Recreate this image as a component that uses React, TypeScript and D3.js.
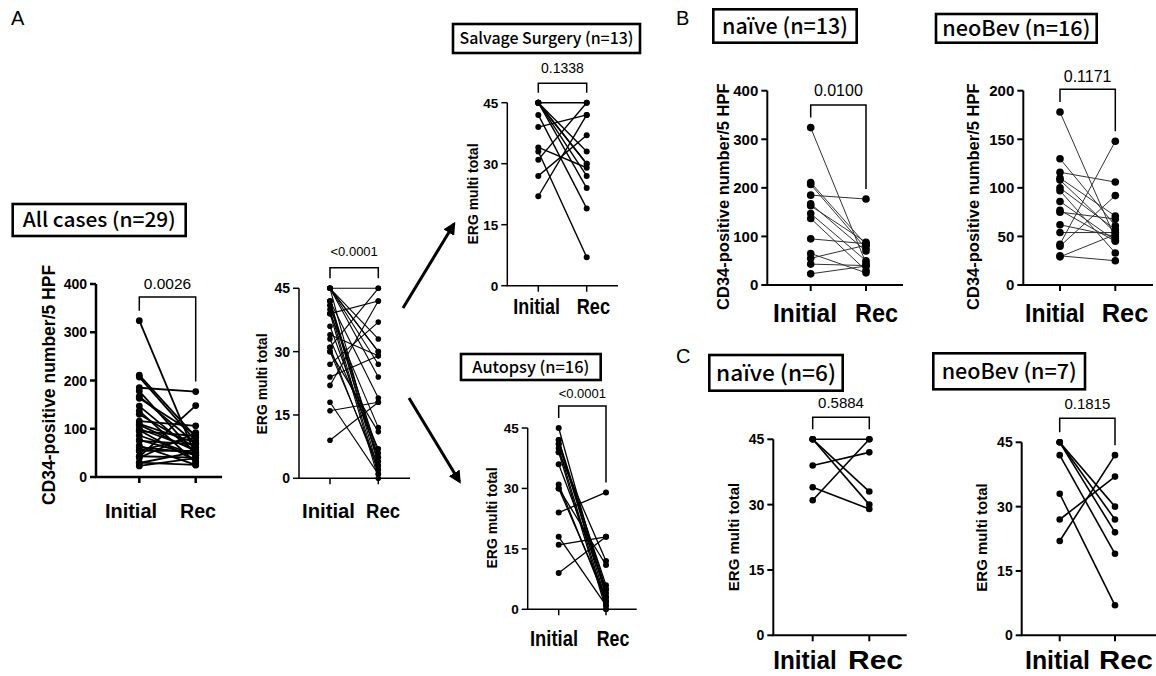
import React from "react";
import * as d3 from "d3";

// ---------- DATA ----------
const groups = ["Initial", "Rec"];

// B: CD34-positive number / 5 HPF
const cd34NaiveInitial = [324, 211, 207, 185, 167, 163, 147, 137, 95, 65, 55, 43, 23];
const cd34NaiveRec = [45, 83, 75, 177, 70, 88, 50, 30, 85, 25, 82, 40, 39];
const cd34NeoBevInitial = [178, 130, 116, 110, 108, 100, 97, 86, 77, 75, 62, 54, 42, 40, 30, 29];
const cd34NeoBevRec = [48, 61, 106, 71, 54, 57, 33, 46, 45, 68, 50, 54, 148, 92, 25, 52];

// C: ERG multi total (salvage surgery cases)
const ergNaiveInitial = [45, 45, 45, 39, 34, 31];
const ergNaiveRec = [45, 33, 30, 42, 29, 45];
const ergNeoBevInitial = [45, 45, 45, 42, 33, 27, 22];
const ergNeoBevRec = [30, 27, 24, 19, 7, 37, 42];

// Autopsy: ERG multi total
const ergAutopsyInitial = [45, 42, 42, 41, 41, 40, 39, 39, 36, 31, 30, 30, 24, 18, 16, 9];
const ergAutopsyRec = [3, 5, 2, 6, 4, 1, 12, 0, 5, 2, 11, 3, 29, 1, 18, 18];

// Combined groups
const cd34AllInitial = [...cd34NaiveInitial, ...cd34NeoBevInitial];
const cd34AllRec = [...cd34NaiveRec, ...cd34NeoBevRec];
const ergSalvageInitial = [...ergNaiveInitial, ...ergNeoBevInitial];
const ergSalvageRec = [...ergNaiveRec, ...ergNeoBevRec];
const ergAllInitial = [...ergSalvageInitial, ...ergAutopsyInitial];
const ergAllRec = [...ergSalvageRec, ...ergAutopsyRec];

const cd34Ticks400 = [0, 100, 200, 300, 400];
const cd34Ticks200 = [0, 50, 100, 150, 200];
const ergTicks = [0, 15, 30, 45];

const cd34Label = "CD34-positive number/5 HPF";
const ergLabel = "ERG multi total";

// ---------- LAYOUT ----------
type PanelCfg = {
  initial: number[];
  rec: number[];
  ticks: number[];
  yLabel: string;
  pText: string;
  axisX: number;
  yTop: number;
  yBottom: number;
  initX: number;
  recX: number;
  axisRight: number;
  bracketTop: number;
  pY: number;
  pSize: number;
  yLabelX: number;
  yLabelCY: number;
  yLabelSize: number;
  tickSize: number;
  xLabelY: number;
  xLabelSize: number;
  xLabSpan: [[number, number], [number, number]];
  axisW: number;
  lineW: number;
  lineColor: string;
  dotR: number;
};

const panels: PanelCfg[] = [
  {
    initial: cd34AllInitial, rec: cd34AllRec, ticks: cd34Ticks400, yLabel: cd34Label, pText: "0.0026",
    axisX: 96, yTop: 284, yBottom: 477, initX: 139.3, recX: 195.7, axisRight: 222,
    bracketTop: 297, pY: 283, pSize: 15.5, yLabelX: 49, yLabelCY: 385, yLabelSize: 17.5, tickSize: 14,
    xLabelY: 510, xLabelSize: 21, xLabSpan: [[105, 157], [180, 216]],
    axisW: 2.5, lineW: 1.8, lineColor: "#000", dotR: 3.4,
  },
  {
    initial: ergAllInitial, rec: ergAllRec, ticks: ergTicks, yLabel: ergLabel, pText: "<0.0001",
    axisX: 299, yTop: 288.3, yBottom: 478.3, initX: 330, recX: 378.3, axisRight: 410,
    bracketTop: 267.7, pY: 251.7, pSize: 13, yLabelX: 261.7, yLabelCY: 384, yLabelSize: 14, tickSize: 14,
    xLabelY: 510, xLabelSize: 21, xLabSpan: [[302, 355], [366, 400]],
    axisW: 1.5, lineW: 1.1, lineColor: "#000", dotR: 2.8,
  },
  {
    initial: ergSalvageInitial, rec: ergSalvageRec, ticks: ergTicks, yLabel: ergLabel, pText: "0.1338",
    axisX: 507.3, yTop: 102.7, yBottom: 285.7, initX: 538.3, recX: 586.7, axisRight: 618,
    bracketTop: 83.3, pY: 68.3, pSize: 14, yLabelX: 472.7, yLabelCY: 194, yLabelSize: 14, tickSize: 13.5,
    xLabelY: 306, xLabelSize: 21.5, xLabSpan: [[513.3, 560], [576.7, 610]],
    axisW: 1.5, lineW: 1.4, lineColor: "#000", dotR: 3,
  },
  {
    initial: ergAutopsyInitial, rec: ergAutopsyRec, ticks: ergTicks, yLabel: ergLabel, pText: "<0.0001",
    axisX: 527.7, yTop: 428, yBottom: 609.3, initX: 558.7, recX: 606, axisRight: 636.7,
    bracketTop: 406, pY: 393.3, pSize: 13, yLabelX: 491.7, yLabelCY: 518, yLabelSize: 14, tickSize: 13.5,
    xLabelY: 638, xLabelSize: 21.5, xLabSpan: [[530, 578], [596.7, 629.3]],
    axisW: 1.5, lineW: 1.3, lineColor: "#000", dotR: 3,
  },
  {
    initial: cd34NaiveInitial, rec: cd34NaiveRec, ticks: cd34Ticks400, yLabel: cd34Label, pText: "0.0100",
    axisX: 767.3, yTop: 90.7, yBottom: 285, initX: 810.7, recX: 866, axisRight: 903,
    bracketTop: 105, pY: 90, pSize: 16, yLabelX: 723.3, yLabelCY: 196.7, yLabelSize: 16.5, tickSize: 15,
    xLabelY: 313, xLabelSize: 25, xLabSpan: [[773, 837], [855, 898]],
    axisW: 2, lineW: 1, lineColor: "#333", dotR: 3.8,
  },
  {
    initial: cd34NeoBevInitial, rec: cd34NeoBevRec, ticks: cd34Ticks200, yLabel: cd34Label, pText: "0.1171",
    axisX: 1023.3, yTop: 90.7, yBottom: 285, initX: 1060, recX: 1115.3, axisRight: 1153,
    bracketTop: 89.3, pY: 76, pSize: 16, yLabelX: 973.3, yLabelCY: 196.7, yLabelSize: 16.5, tickSize: 15,
    xLabelY: 313, xLabelSize: 25, xLabSpan: [[1025, 1085], [1101.7, 1148.3]],
    axisW: 2, lineW: 1, lineColor: "#333", dotR: 3.8,
  },
  {
    initial: ergNaiveInitial, rec: ergNaiveRec, ticks: ergTicks, yLabel: ergLabel, pText: "0.5884",
    axisX: 773.3, yTop: 439.3, yBottom: 635.3, initX: 812.7, recX: 869.3, axisRight: 906.7,
    bracketTop: 417.3, pY: 402.7, pSize: 15, yLabelX: 733.3, yLabelCY: 537, yLabelSize: 15, tickSize: 14,
    xLabelY: 660, xLabelSize: 25, xLabSpan: [[773.3, 836.7], [848, 903]],
    axisW: 2, lineW: 1.6, lineColor: "#000", dotR: 3.3,
  },
  {
    initial: ergNeoBevInitial, rec: ergNeoBevRec, ticks: ergTicks, yLabel: ergLabel, pText: "0.1815",
    axisX: 1021.7, yTop: 442.3, yBottom: 635.3, initX: 1059.7, recX: 1115, axisRight: 1156,
    bracketTop: 418.3, pY: 404, pSize: 15, yLabelX: 981.7, yLabelCY: 537.5, yLabelSize: 15, tickSize: 14,
    xLabelY: 660, xLabelSize: 25, xLabSpan: [[1025, 1090], [1099, 1153]],
    axisW: 2, lineW: 1.6, lineColor: "#000", dotR: 3.3,
  },
];

type TitleCfg = { text: string; x0: number; x1: number; y0: number; y1: number; size: number; tw: number };
const titles: TitleCfg[] = [
  { text: "All cases (n=29)", x0: 12.7, x1: 185.7, y0: 204, y1: 236, size: 20, tw: 153 },
  { text: "Salvage Surgery (n=13)", x0: 453, x1: 640, y0: 24, y1: 53, size: 16, tw: 174 },
  { text: "Autopsy (n=16)", x0: 461, x1: 600.7, y0: 354, y1: 380, size: 16, tw: 117 },
  { text: "naïve (n=13)", x0: 713.3, x1: 856.7, y0: 9.3, y1: 42.7, size: 22, tw: 126 },
  { text: "neoBev (n=16)", x0: 936, x1: 1096.7, y0: 14, y1: 42.7, size: 21, tw: 148 },
  { text: "naïve (n=6)", x0: 709.3, x1: 842.7, y0: 355, y1: 390.7, size: 22, tw: 120 },
  { text: "neoBev (n=7)", x0: 933.3, x1: 1085, y0: 353.3, y1: 389.3, size: 21, tw: 135 },
];

const letters = [
  { t: "A", x: 11, y: 25 },
  { t: "B", x: 676, y: 25 },
  { t: "C", x: 676, y: 363 },
];

const arrows = [
  { x1: 403, y1: 308, x2: 454, y2: 224 },
  { x1: 409, y1: 398, x2: 459.5, y2: 481.5 },
];

const FONT = "'Liberation Sans', Arial, Helvetica, sans-serif";
const TITLE_FONT = "'Noto Sans CJK JP', 'Noto Sans', sans-serif";

function Panel({ c }: { c: PanelCfg }) {
  const maxT = c.ticks[c.ticks.length - 1];
  const y = d3.scaleLinear().domain([0, maxT]).range([c.yBottom, c.yTop]);
  const x = d3.scalePoint<string>().domain(groups).range([c.initX, c.recX]);
  const xi = x("Initial")!;
  const xr = x("Rec")!;
  const gap = 10;
  const leftLeg = y(d3.max(c.initial)!) - gap;
  const rightLeg = y(d3.max(c.rec)!) - gap;
  const line = d3.line<[number, number]>().x((d) => d[0]).y((d) => d[1]);
  const bracket = d3.line<[number, number]>()([
    [xi, leftLeg],
    [xi, c.bracketTop],
    [xr, c.bracketTop],
    [xr, rightLeg],
  ]);
  return (
    <g>
      {c.initial.map((v, i) => (
        <path
          key={"l" + i}
          d={line([[xi, y(v)], [xr, y(c.rec[i])]])!}
          stroke={c.lineColor}
          strokeWidth={c.lineW}
          fill="none"
        />
      ))}
      {c.initial.map((v, i) => (
        <circle key={"a" + i} cx={xi} cy={y(v)} r={c.dotR} fill="#000" />
      ))}
      {c.rec.map((v, i) => (
        <circle key={"b" + i} cx={xr} cy={y(v)} r={c.dotR} fill="#000" />
      ))}
      <line x1={c.axisX} x2={c.axisX} y1={c.yTop} y2={c.yBottom} stroke="#000" strokeWidth={c.axisW} />
      <line x1={c.axisX - c.axisW / 2} x2={c.axisRight} y1={c.yBottom} y2={c.yBottom} stroke="#000" strokeWidth={c.axisW} />
      {c.ticks.map((t) => (
        <g key={"t" + t}>
          <line x1={c.axisX - 6} x2={c.axisX} y1={y(t)} y2={y(t)} stroke="#000" strokeWidth={c.axisW} />
          <text
            x={c.axisX - 9}
            y={y(t)}
            dy="0.36em"
            textAnchor="end"
            fontFamily={FONT}
            fontWeight="bold"
            fontSize={c.tickSize}
          >
            {t}
          </text>
        </g>
      ))}
      {groups.map((g, gi) => {
        const span = c.xLabSpan[gi];
        return (
          <g key={g}>
            <line x1={x(g)!} x2={x(g)!} y1={c.yBottom} y2={c.yBottom + 6} stroke="#000" strokeWidth={c.axisW} />
            <text
              x={span[0]}
              y={c.xLabelY}
              dy="0.36em"
              textAnchor="start"
              fontFamily={FONT}
              fontWeight="bold"
              fontSize={c.xLabelSize}
              textLength={span[1] - span[0]}
              lengthAdjust="spacingAndGlyphs"
            >
              {g}
            </text>
          </g>
        );
      })}
      <text
        transform={`translate(${c.yLabelX},${c.yLabelCY}) rotate(-90)`}
        dy="0.36em"
        textAnchor="middle"
        fontFamily={FONT}
        fontWeight="bold"
        fontSize={c.yLabelSize}
      >
        {c.yLabel}
      </text>
      <path d={bracket!} fill="none" stroke="#000" strokeWidth={1.5} />
      <text
        x={(xi + xr) / 2}
        y={c.pY}
        dy="0.36em"
        textAnchor="middle"
        fontFamily={FONT}
        fontSize={c.pSize}
      >
        {c.pText}
      </text>
    </g>
  );
}

export default function App() {
  return (
    <svg
      width={1156}
      height={676}
      viewBox="0 0 1156 676"
      style={{ position: "absolute", left: 0, top: 0, background: "#fff" }}
    >
      <defs>
        <marker id="ah" viewBox="0 0 10 10" refX="8" refY="5" markerWidth="4.2" markerHeight="4.2" orient="auto">
          <path d="M0,0 L10,5 L0,10 z" fill="#000" />
        </marker>
      </defs>
      <rect x={0} y={0} width={1156} height={676} fill="#fff" />
      {letters.map((l) => (
        <text key={l.t} x={l.x} y={l.y} fontFamily={FONT} fontSize={20}>
          {l.t}
        </text>
      ))}
      {titles.map((t) => (
        <g key={t.text}>
          <rect
            x={t.x0}
            y={t.y0}
            width={t.x1 - t.x0}
            height={t.y1 - t.y0}
            fill="#fff"
            stroke="#000"
            strokeWidth={2.6}
          />
          <text
            x={(t.x0 + t.x1) / 2}
            y={(t.y0 + t.y1) / 2}
            dy="0.36em"
            textAnchor="middle"
            fontFamily={TITLE_FONT}
            fontWeight={500}
            fontSize={t.size}
            textLength={t.tw}
            lengthAdjust="spacingAndGlyphs"
          >
            {t.text}
          </text>
        </g>
      ))}
      {arrows.map((a, i) => (
        <line
          key={"ar" + i}
          x1={a.x1}
          y1={a.y1}
          x2={a.x2}
          y2={a.y2}
          stroke="#000"
          strokeWidth={3}
          markerEnd="url(#ah)"
        />
      ))}
      {panels.map((p, i) => (
        <Panel key={i} c={p} />
      ))}
    </svg>
  );
}
